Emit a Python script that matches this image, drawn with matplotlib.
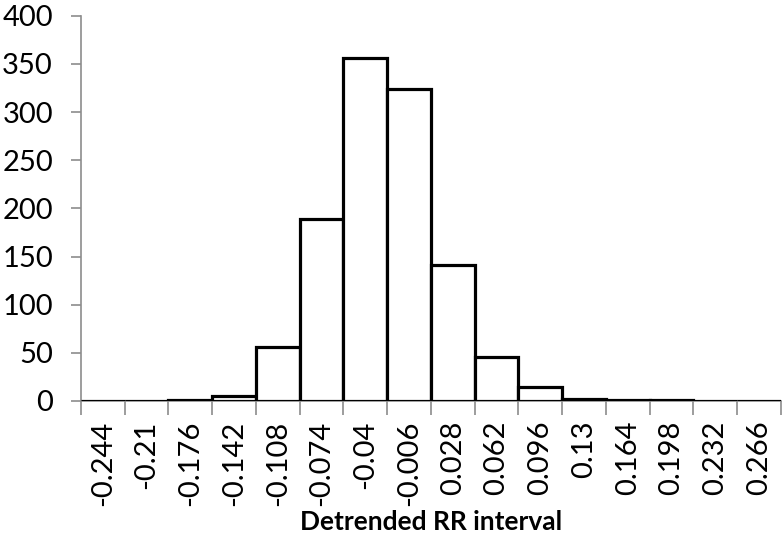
import numpy as np
import matplotlib
matplotlib.use("Agg")
import matplotlib.pyplot as plt

plt.rcParams['font.family'] = ['Lato', 'DejaVu Sans']

# bin labels and counts
bins = ['-0.244', '-0.21', '-0.176', '-0.142', '-0.108', '-0.074', '-0.04', '-0.006',
        '0.028', '0.062', '0.096', '0.13', '0.164', '0.198', '0.232', '0.266']
counts = [0, 0, 1, 5, 56, 189, 356, 324, 141, 46, 14, 2, 1, 1, 0, 0]
yticks = [0, 50, 100, 150, 200, 250, 300, 350, 400]

fig = plt.figure(figsize=(7.84, 5.47), dpi=100)
ax = fig.add_axes([0.103, 0.267, 0.893, 0.704])

x = np.arange(len(bins))
ax.bar(x, counts, width=1.0, align='edge', facecolor='white', edgecolor='black',
       linewidth=2.3, zorder=3)

ax.set_xlim(0, len(bins))
ax.set_ylim(0, 400)
ax.set_yticks(yticks)
ax.tick_params(axis='y', labelsize=21, length=7, width=1.2, color='#8c8c8c', pad=13)

# ticks at bin edges, labels at bin centres
ax.set_xticks(np.arange(len(bins) + 1))
ax.set_xticklabels([])
ax.set_xticks(x + 0.5, minor=True)
ax.set_xticklabels(bins, minor=True, rotation=90, fontsize=21)
ax.tick_params(axis='x', which='major', length=10, width=1.2, color='#8c8c8c')
ax.tick_params(axis='x', which='minor', length=0, pad=14)

for s in ['top', 'right']:
    ax.spines[s].set_visible(False)
for s in ['left', 'bottom']:
    ax.spines[s].set_color('#8c8c8c')
    ax.spines[s].set_linewidth(1.2)

ax.set_xlabel('Detrended RR interval', fontsize=19, fontweight='bold', labelpad=3)

fig.savefig('out.png', dpi=100)
